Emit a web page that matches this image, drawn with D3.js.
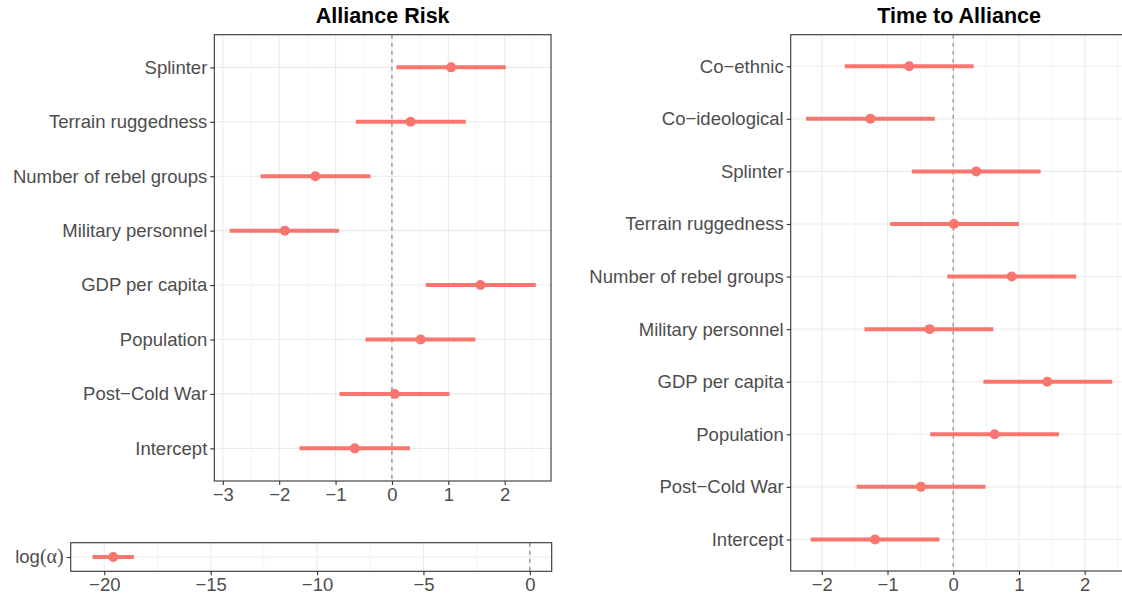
<!DOCTYPE html>
<html>
<head>
<meta charset="utf-8">
<script src="https://cdn.jsdelivr.net/npm/d3@7"></script>
<style>
  html, body { margin: 0; padding: 0; background: #fff; }
  svg { display: block; font-family: "Liberation Sans", Arial, Helvetica, sans-serif; }
</style>
</head>
<body>
<svg id="chart" width="1122" height="599"></svg>
<script>
// Alliance risk model coefficients (estimate with interval)
const riskCategories = ["Splinter", "Terrain ruggedness", "Number of rebel groups", "Military personnel",
  "GDP per capita", "Population", "Post\u2212Cold War", "Intercept"];
const riskEstimate = [1.05, 0.33, -1.36, -1.90, 1.57, 0.51, 0.05, -0.66];
const riskLower    = [0.08, -0.64, -2.33, -2.88, 0.60, -0.47, -0.93, -1.64];
const riskUpper    = [2.02, 1.31, -0.38, -0.94, 2.55, 1.48, 1.02, 0.32];
const riskTicks    = [-3, -2, -1, 0, 1, 2];

// Dispersion parameter of the risk model
const alphaCategories = ["log(\u03b1)"];
const alphaEstimate = [-19.58];
const alphaLower    = [-20.55];
const alphaUpper    = [-18.61];
const alphaTicks    = [-20, -15, -10, -5, 0];

// Time-to-alliance model coefficients
const timeCategories = ["Co\u2212ethnic", "Co\u2212ideological", "Splinter", "Terrain ruggedness",
  "Number of rebel groups", "Military personnel", "GDP per capita", "Population", "Post\u2212Cold War", "Intercept"];
const timeEstimate = [-0.67, -1.26, 0.35, 0.01, 0.89, -0.36, 1.43, 0.63, -0.49, -1.19];
const timeLower    = [-1.65, -2.24, -0.63, -0.96, -0.09, -1.35, 0.46, -0.35, -1.47, -2.17];
const timeUpper    = [0.31, -0.28, 1.33, 1.00, 1.87, 0.61, 2.42, 1.61, 0.49, -0.21];
const timeTicks    = [-2, -1, 0, 1, 2];

const COLOR = "#F8766D";
const LABEL_SIZE = 18.5;
const TITLE_SIZE = 21.5;
const svg = d3.select("#chart");
let clipId = 0;

function drawPanel(opt) {
  const { x0, x1, y0, y1, cats, est, lo, hi, ticks, minorStep, title, customLabel } = opt;
  // pad the x range by 5% each side, always including 0
  const dataMin = Math.min(d3.min(lo), 0), dataMax = Math.max(d3.max(hi), 0);
  const pad = (dataMax - dataMin) * 0.05;
  const x = d3.scaleLinear().domain([dataMin - pad, dataMax + pad]).range([x0, x1]);
  const y = d3.scalePoint().domain(cats).range([y0, y1]).padding(0.6);

  const g = svg.append("g");
  const id = "clip" + (clipId++);
  g.append("clipPath").attr("id", id)
    .append("rect").attr("x", x0).attr("y", y0).attr("width", x1 - x0).attr("height", y1 - y0);
  const inner = g.append("g").attr("clip-path", `url(#${id})`);

  // minor vertical grid
  const [dLo, dHi] = x.domain();
  const minors = d3.range(Math.ceil(dLo / minorStep) * minorStep, dHi, minorStep)
    .filter(v => !ticks.some(t => Math.abs(t - v) < 1e-9));
  inner.selectAll(".minor").data(minors).join("line")
    .attr("x1", d => x(d)).attr("x2", d => x(d)).attr("y1", y0).attr("y2", y1)
    .attr("stroke", "#F2F2F2").attr("stroke-width", 0.8);
  // major vertical grid
  inner.selectAll(".majx").data(ticks).join("line")
    .attr("x1", d => x(d)).attr("x2", d => x(d)).attr("y1", y0).attr("y2", y1)
    .attr("stroke", "#EBEBEB").attr("stroke-width", 1.1);
  // horizontal grid
  inner.selectAll(".majy").data(cats).join("line")
    .attr("x1", x0).attr("x2", x1).attr("y1", d => y(d)).attr("y2", d => y(d))
    .attr("stroke", "#EBEBEB").attr("stroke-width", 1.1);

  // zero reference line
  inner.append("line")
    .attr("x1", x(0)).attr("x2", x(0)).attr("y1", y0).attr("y2", y1)
    .attr("stroke", "#7F7F7F").attr("stroke-width", 1.1).attr("stroke-dasharray", "4,4");

  // intervals and estimates
  inner.selectAll(".ci").data(cats).join("line")
    .attr("x1", (d, i) => x(lo[i])).attr("x2", (d, i) => x(hi[i]))
    .attr("y1", d => y(d)).attr("y2", d => y(d))
    .attr("stroke", COLOR).attr("stroke-width", 4);
  inner.selectAll(".pt").data(cats).join("circle")
    .attr("cx", (d, i) => x(est[i])).attr("cy", d => y(d)).attr("r", 5)
    .attr("fill", COLOR);

  // panel border
  g.append("rect").attr("x", x0).attr("y", y0).attr("width", x1 - x0).attr("height", y1 - y0)
    .attr("fill", "none").attr("stroke", "#333333").attr("stroke-width", 1.1);

  // x axis
  const xa = g.append("g").attr("transform", `translate(0,${y1})`)
    .call(d3.axisBottom(x).tickValues(ticks).tickSize(4).tickPadding(3)
      .tickFormat(d => d < 0 ? "\u2212" + Math.abs(d) : String(d)));
  xa.select(".domain").remove();
  xa.selectAll(".tick line").attr("stroke", "#333333").attr("stroke-width", 1.1);
  xa.selectAll(".tick text").attr("fill", "#4D4D4D").attr("font-size", LABEL_SIZE)
    .attr("font-family", "Liberation Sans, Arial, sans-serif");

  // y axis
  const ya = g.append("g").attr("transform", `translate(${x0},0)`)
    .call(d3.axisLeft(y).tickSize(4).tickPadding(3));
  ya.select(".domain").remove();
  ya.selectAll(".tick line").attr("stroke", "#333333").attr("stroke-width", 1.1);
  ya.selectAll(".tick text").attr("fill", "#4D4D4D").attr("font-size", LABEL_SIZE)
    .attr("font-family", "Liberation Sans, Arial, sans-serif");
  if (customLabel) customLabel(ya);

  if (title) {
    svg.append("text").attr("x", (x0 + x1) / 2).attr("y", 23)
      .attr("text-anchor", "middle").attr("font-weight", "bold").attr("font-size", TITLE_SIZE)
      .attr("fill", "#000").text(title);
  }
}

drawPanel({ x0: 214.3, x1: 551, y0: 34.7, y1: 481, cats: riskCategories,
  est: riskEstimate, lo: riskLower, hi: riskUpper, ticks: riskTicks, minorStep: 0.5, title: "Alliance Risk" });

drawPanel({ x0: 70.7, x1: 551.7, y0: 542.7, y1: 571.3, cats: alphaCategories,
  est: alphaEstimate, lo: alphaLower, hi: alphaUpper, ticks: alphaTicks, minorStep: 2.5,
  customLabel: ya => {
    const t = ya.select(".tick text").text(null);
    t.append("tspan").text("log");
    t.append("tspan").attr("font-family", "Liberation Serif, DejaVu Serif, serif").attr("font-size", 20).text("(\u03b1)");
  } });

drawPanel({ x0: 790.7, x1: 1127.6, y0: 34.7, y1: 571, cats: timeCategories,
  est: timeEstimate, lo: timeLower, hi: timeUpper, ticks: timeTicks, minorStep: 0.5, title: "Time to Alliance" });
</script>
</body>
</html>
